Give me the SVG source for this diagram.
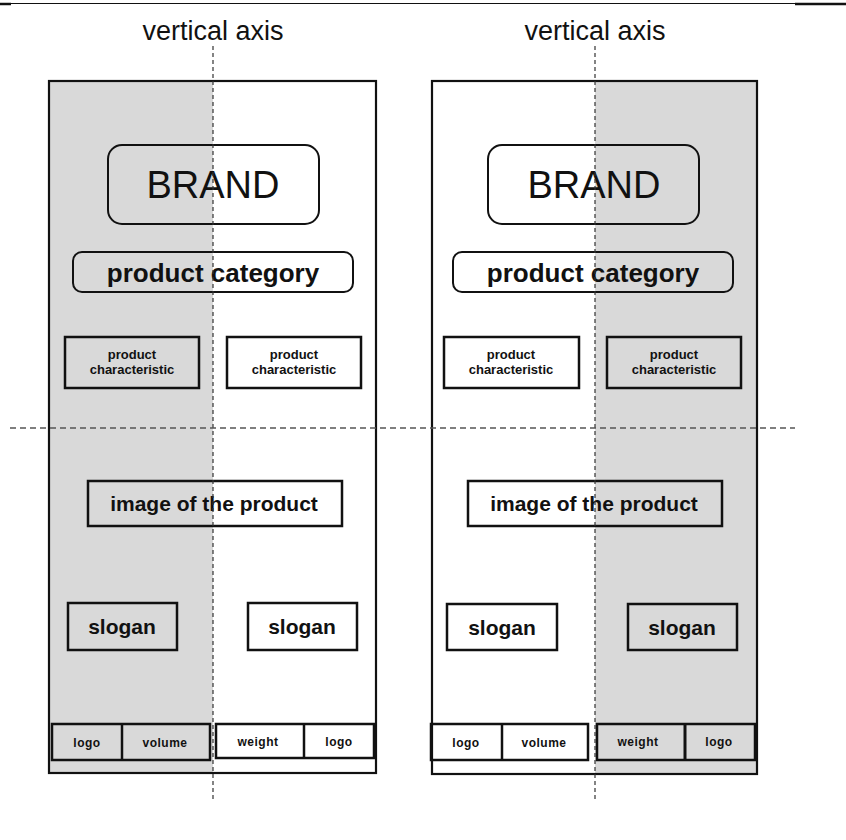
<svg xmlns="http://www.w3.org/2000/svg" width="846" height="840" viewBox="0 0 846 840">
<style>
  .bg{fill:#ffffff}
  .gray{fill:#d9d9d9}
  .frame{fill:none;stroke:#111;stroke-width:2.2}
  .box{fill:none;stroke:#111;stroke-width:2.5}
  .rbox{fill:none;stroke:#111;stroke-width:2}
  .t{font-family:"Liberation Sans",Arial,sans-serif;fill:#111;text-anchor:middle}
  .b{font-weight:bold}
  .axis{stroke:#333;stroke-width:1.2;stroke-dasharray:4 3;fill:none}
  .hax{stroke:#555;stroke-width:1.5;stroke-dasharray:6 4;fill:none}
</style>
<rect x="0" y="0" width="846" height="840" class="bg"/>
<g id="topline">
  <line x1="0" y1="3.5" x2="846" y2="3.5" stroke="#111" stroke-width="1.2"/>
  <line x1="0" y1="4" x2="11" y2="4" stroke="#111" stroke-width="2.5"/>
  <line x1="795" y1="4" x2="846" y2="4" stroke="#111" stroke-width="2.5"/>
</g>
<g id="label-left"><text class="t" x="213" y="40" font-size="27">vertical axis</text></g>
<g id="label-right"><text class="t" x="595" y="40" font-size="27">vertical axis</text></g>

<g id="panel-left">
  <rect class="gray" x="49" y="81" width="164" height="692"/>
  <rect class="frame" x="49" y="81" width="327" height="692"/>
</g>
<g id="panel-right">
  <rect class="gray" x="595" y="81" width="162" height="693"/>
  <rect class="frame" x="432" y="81" width="325" height="693"/>
</g>

<g id="brand-left">
  <rect class="rbox" x="108" y="145" width="211" height="79" rx="14"/>
  <text class="t" x="213" y="198" font-size="38">BRAND</text>
</g>
<g id="brand-right">
  <rect class="rbox" x="488" y="145" width="211" height="79" rx="14"/>
  <text class="t" x="594" y="198" font-size="38">BRAND</text>
</g>
<g id="category-left">
  <rect class="rbox" x="73" y="252" width="280" height="40" rx="9"/>
  <text class="t b" x="213" y="282" font-size="26">product category</text>
</g>
<g id="category-right">
  <rect class="rbox" x="453" y="252" width="280" height="40" rx="9"/>
  <text class="t b" x="593" y="282" font-size="26">product category</text>
</g>

<g id="char-left-1">
  <rect class="box" x="65" y="337" width="134" height="51"/>
  <text class="t b" x="132" y="359" font-size="13">product</text>
  <text class="t b" x="132" y="374" font-size="13">characteristic</text>
</g>
<g id="char-left-2">
  <rect class="box" x="227" y="337" width="134" height="51"/>
  <text class="t b" x="294" y="359" font-size="13">product</text>
  <text class="t b" x="294" y="374" font-size="13">characteristic</text>
</g>
<g id="char-right-1">
  <rect class="box" x="444" y="337" width="135" height="51"/>
  <text class="t b" x="511" y="359" font-size="13">product</text>
  <text class="t b" x="511" y="374" font-size="13">characteristic</text>
</g>
<g id="char-right-2">
  <rect class="box" x="607" y="337" width="134" height="51"/>
  <text class="t b" x="674" y="359" font-size="13">product</text>
  <text class="t b" x="674" y="374" font-size="13">characteristic</text>
</g>

<g id="image-left">
  <rect class="box" x="88" y="481" width="254" height="45"/>
  <text class="t b" x="214" y="511" font-size="21">image of the product</text>
</g>
<g id="image-right">
  <rect class="box" x="468" y="481" width="254" height="45"/>
  <text class="t b" x="594" y="511" font-size="21">image of the product</text>
</g>

<g id="slogan-left-1">
  <rect class="box" x="68" y="603" width="109" height="47"/>
  <text class="t b" x="122" y="634" font-size="21">slogan</text>
</g>
<g id="slogan-left-2">
  <rect class="box" x="248" y="603" width="109" height="47"/>
  <text class="t b" x="302" y="634" font-size="21">slogan</text>
</g>
<g id="slogan-right-1">
  <rect class="box" x="447" y="604" width="110" height="46"/>
  <text class="t b" x="502" y="635" font-size="21">slogan</text>
</g>
<g id="slogan-right-2">
  <rect class="box" x="628" y="604" width="109" height="46"/>
  <text class="t b" x="682" y="635" font-size="21">slogan</text>
</g>

<g id="footer-left-1">
  <rect class="box" x="52" y="724" width="158" height="36"/>
  <line x1="122" y1="724" x2="122" y2="760" stroke="#111" stroke-width="2.5"/>
  <text class="t b" x="87" y="747" font-size="12" letter-spacing="0.5">logo</text>
  <text class="t b" x="165" y="747" font-size="12" letter-spacing="0.5">volume</text>
</g>
<g id="footer-left-2">
  <rect class="box" x="216" y="724" width="158" height="34"/>
  <line x1="304" y1="724" x2="304" y2="758" stroke="#111" stroke-width="2.5"/>
  <text class="t b" x="258" y="746" font-size="12" letter-spacing="0.5">weight</text>
  <text class="t b" x="339" y="746" font-size="12" letter-spacing="0.5">logo</text>
</g>
<g id="footer-right-1">
  <rect class="box" x="431" y="724" width="157" height="36"/>
  <line x1="502" y1="724" x2="502" y2="760" stroke="#111" stroke-width="2.5"/>
  <text class="t b" x="466" y="747" font-size="12" letter-spacing="0.5">logo</text>
  <text class="t b" x="544" y="747" font-size="12" letter-spacing="0.5">volume</text>
</g>
<g id="footer-right-2">
  <rect class="box" x="597" y="724" width="158" height="36" stroke-width="3"/>
  <line x1="685" y1="724" x2="685" y2="760" stroke="#111" stroke-width="3"/>
  <text class="t b" x="638" y="746" font-size="12" letter-spacing="0.5">weight</text>
  <text class="t b" x="719" y="746" font-size="12" letter-spacing="0.5">logo</text>
</g>

<g id="connectors">
  <line class="axis" x1="213" y1="46" x2="213" y2="802"/>
  <line class="axis" x1="595" y1="46" x2="595" y2="802"/>
  <line class="hax" x1="10" y1="428" x2="795" y2="428"/>
</g>
</svg>
